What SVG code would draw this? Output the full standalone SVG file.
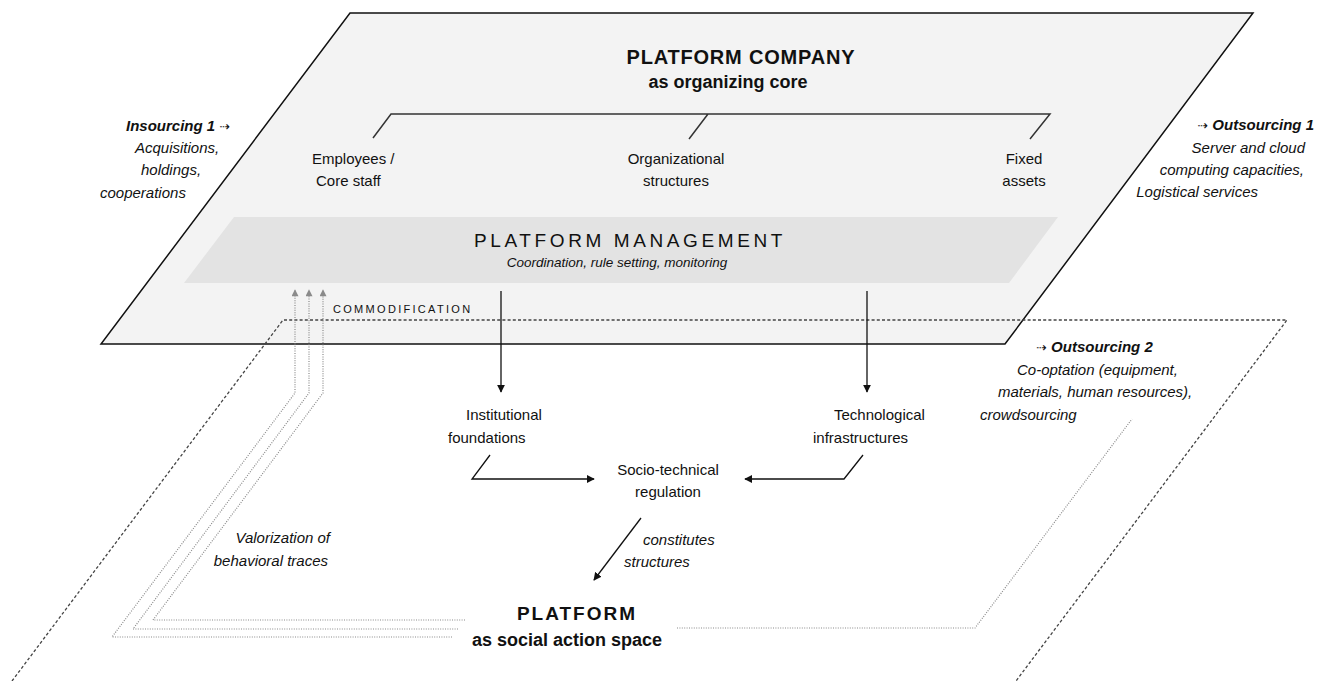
<svg xmlns="http://www.w3.org/2000/svg" width="1333" height="681" viewBox="0 0 1333 681">
<defs>
<style>
text{font-family:"Liberation Sans",Arial,sans-serif;fill:#111}
.lbl{font-size:15px}
.it{font-size:15px;font-style:italic}
.bi{font-size:15px;font-style:italic;font-weight:bold}
.arr{font-family:"DejaVu Sans",sans-serif;font-size:13px}
.conn{fill:none;stroke:#111;stroke-width:1.3}
.gdot{fill:none;stroke:#8a8a8a;stroke-width:1.2;stroke-dasharray:1 1.4}
.dash{fill:none;stroke:#444;stroke-width:1.3;stroke-dasharray:3 2.2}
</style>
<marker id="ah" viewBox="0 0 10 10" refX="9" refY="5" markerWidth="8" markerHeight="8" markerUnits="userSpaceOnUse" orient="auto"><path d="M0,0 L10,5 L0,10 z" fill="#111"/></marker>
<marker id="ahg" viewBox="0 0 10 10" refX="9" refY="5" markerWidth="8" markerHeight="7" markerUnits="userSpaceOnUse" orient="auto"><path d="M0,0 L10,5 L0,10 z" fill="#8a8a8a"/></marker>
</defs>

<g id="platform-company">
<polygon points="350,13 1253,13 1005,344 101,344" fill="#f3f3f3" stroke="#111" stroke-width="1.5"/>
<text x="741" y="64" text-anchor="middle" font-size="20" font-weight="bold" letter-spacing="1" textLength="229">PLATFORM COMPANY</text>
<text x="728" y="88" text-anchor="middle" font-size="18" font-weight="bold">as organizing core</text>
</g>

<g id="resources">
<path d="M373,138 L391,114 H1050 L1030,139 M708,114 L689,139" fill="none" stroke="#333" stroke-width="1.5"/>
<text class="lbl" x="312" y="164">Employees /</text>
<text class="lbl" x="316" y="186">Core staff</text>
<text class="lbl" x="676" y="164" text-anchor="middle">Organizational</text>
<text class="lbl" x="676" y="186" text-anchor="middle">structures</text>
<text class="lbl" x="1024" y="164" text-anchor="middle">Fixed</text>
<text class="lbl" x="1024" y="186" text-anchor="middle">assets</text>
</g>

<g id="platform-management">
<polygon points="234,217 1058,217 1009,283 184,283" fill="#e3e3e3"/>
<text x="630" y="247" text-anchor="middle" font-size="19" letter-spacing="3.6" fill="#222">PLATFORM MANAGEMENT</text>
<text x="617" y="267" text-anchor="middle" font-size="13.5" font-style="italic">Coordination, rule setting, monitoring</text>
</g>

<g id="insourcing">
<text class="bi" x="126" y="131">Insourcing 1 <tspan class="arr" font-style="normal" font-weight="normal">⇢</tspan></text>
<text class="it" x="135" y="153">Acquisitions,</text>
<text class="it" x="141" y="175">holdings,</text>
<text class="it" x="100" y="198">cooperations</text>
</g>

<g id="outsourcing1">
<text class="bi" x="1314" y="130" text-anchor="end"><tspan class="arr" font-style="normal" font-weight="normal">⇢</tspan> Outsourcing 1</text>
<text class="it" x="1305" y="153" text-anchor="end">Server and cloud</text>
<text class="it" x="1304" y="175" text-anchor="end">computing capacities,</text>
<text class="it" x="1258" y="197" text-anchor="end">Logistical services</text>
</g>

<g id="outsourcing2">
<text class="bi" x="1036" y="352"><tspan class="arr" font-style="normal" font-weight="normal">⇢</tspan> Outsourcing 2</text>
<text class="it" x="1017" y="375">Co-optation (equipment,</text>
<text class="it" x="998" y="397">materials, human resources),</text>
<text class="it" x="980" y="420">crowdsourcing</text>
</g>

<g id="commodification">
<text x="333" y="313" font-size="11" letter-spacing="2.3" fill="#222">COMMODIFICATION</text>
</g>

<g id="institutional">
<text class="lbl" x="466" y="420">Institutional</text>
<text class="lbl" x="448" y="443">foundations</text>
</g>

<g id="technological">
<text class="lbl" x="834" y="420">Technological</text>
<text class="lbl" x="813" y="443">infrastructures</text>
</g>

<g id="regulation">
<text class="lbl" x="668" y="475" text-anchor="middle">Socio-technical</text>
<text class="lbl" x="668" y="497" text-anchor="middle">regulation</text>
</g>

<g id="constitutes">
<text class="it" x="643" y="545">constitutes</text>
<text class="it" x="624" y="567">structures</text>
</g>

<g id="valorization">
<text class="it" x="330" y="543" text-anchor="end">Valorization of</text>
<text class="it" x="328" y="566" text-anchor="end">behavioral traces</text>
</g>

<g id="platform">
<text x="577" y="620" text-anchor="middle" font-size="19" font-weight="bold" letter-spacing="2">PLATFORM</text>
<text x="567" y="646" text-anchor="middle" font-size="18" font-weight="bold">as social action space</text>
</g>

<g id="connectors">
<path class="dash" d="M12,681 L283,320 H1287 L1016,681"/>
<path class="gdot" d="M452,637 H112 L295,393 V290" marker-end="url(#ahg)"/>
<path class="gdot" d="M458,629 H133 L309,393 V290" marker-end="url(#ahg)"/>
<path class="gdot" d="M465,620 H153 L323,393 V290" marker-end="url(#ahg)"/>
<path class="gdot" d="M677,628 H975 L1132,419"/>
<path class="conn" d="M501,291 V392" marker-end="url(#ah)"/>
<path class="conn" d="M867,291 V392" marker-end="url(#ah)"/>
<path class="conn" d="M490,455 L472,479 H594" marker-end="url(#ah)"/>
<path class="conn" d="M863,455 L844,479 H745" marker-end="url(#ah)"/>
<path class="conn" d="M641,518 L594,580" marker-end="url(#ah)"/>
</g>
</svg>
